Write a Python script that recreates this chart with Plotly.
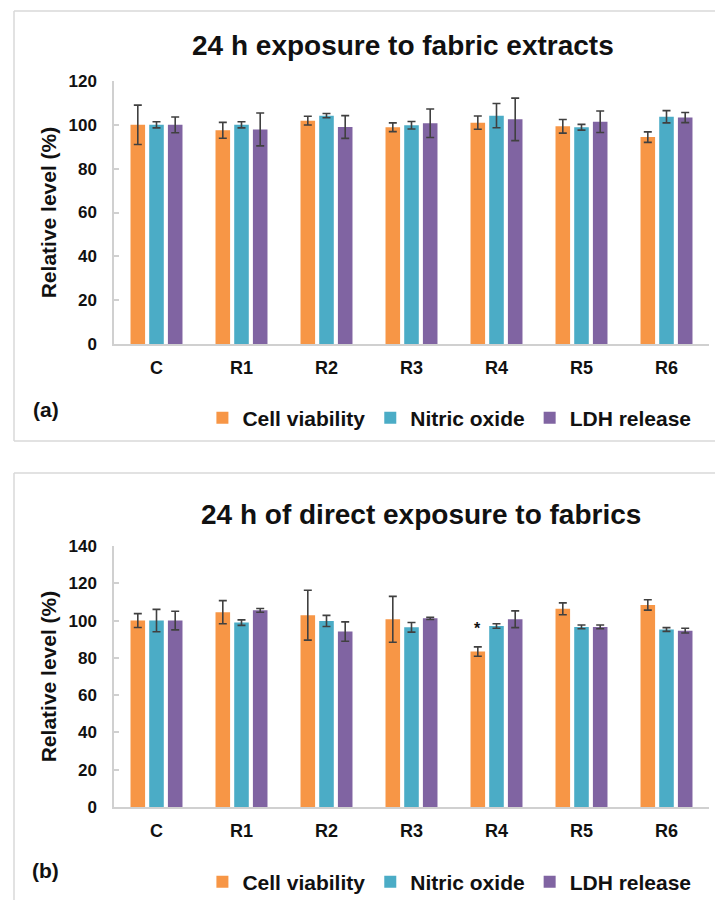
import plotly.graph_objects as go

categories = ["C", "R1", "R2", "R3", "R4", "R5", "R6"]
series_names = ["Cell viability", "Nitric oxide", "LDH release"]
series_colors = ["#F79646", "#4BACC6", "#8064A2"]

# Panel (a): 24 h exposure to fabric extracts
a_cell = [100, 97.5, 101.9, 98.9, 101.0, 99.3, 94.4]
a_cell_err = [9.0, 3.6, 2.0, 2.0, 3.0, 3.1, 2.4]
a_no = [100, 100, 104.2, 99.8, 104.2, 98.9, 103.7]
a_no_err = [1.4, 1.4, 1.0, 1.7, 5.5, 1.3, 2.8]
a_ldh = [100, 97.9, 99.0, 100.7, 102.5, 101.4, 103.3]
a_ldh_err = [3.6, 7.5, 5.2, 6.5, 9.7, 4.9, 2.3]

# Panel (b): 24 h of direct exposure to fabrics
b_cell = [100, 104.5, 102.9, 100.7, 83.4, 106.3, 108.4]
b_cell_err = [3.75, 6.2, 13.4, 12.3, 2.5, 3.2, 2.8]
b_no = [100, 98.9, 99.8, 96.4, 97.1, 96.6, 95.2]
b_no_err = [6.0, 1.5, 3.0, 2.6, 1.2, 1.0, 1.0]
b_ldh = [100, 105.5, 94.1, 101.2, 100.7, 96.6, 94.6]
b_ldh_err = [5.0, 1.0, 5.2, 0.6, 4.5, 1.0, 1.3]

title_a = "24 h exposure to fabric extracts"
title_b = "24 h of direct exposure to fabrics"
y_title = "Relative level (%)"
a_ticks = [0, 20, 40, 60, 80, 100, 120]
b_ticks = [0, 20, 40, 60, 80, 100, 120, 140]
star_cat = "R4"
star_value = 95.5

W, H = 715, 900
FONT = "Liberation Sans, Arial, sans-serif"
INK = "#111111"
AXIS = "#d0d0d0"
ERR = "#404040"
FRAME = "#d9d9d9"

fig = go.Figure()

panels = [
    ("x", "y", "legend", [(a_cell, a_cell_err), (a_no, a_no_err), (a_ldh, a_ldh_err)]),
    ("x2", "y2", "legend2", [(b_cell, b_cell_err), (b_no, b_no_err), (b_ldh, b_ldh_err)]),
]
for xa, ya, leg, data in panels:
    for (vals, errs), name, col in zip(data, series_names, series_colors):
        fig.add_trace(go.Bar(
            x=categories, y=vals, name=name, xaxis=xa, yaxis=ya, legend=leg,
            marker=dict(color=col, line=dict(width=0)),
            error_y=dict(type="data", array=errs, visible=True,
                         color=ERR, thickness=1.6, width=4),
        ))

def px_x(v):
    return v / W

def px_y(v):
    return 1 - v / H

xdom = [px_x(114), px_x(709)]
common_x = dict(
    showline=True, linecolor=AXIS, linewidth=1.5, ticks="", showgrid=False,
    tickfont=dict(family=FONT, size=18, color=INK, weight="bold"),
    ticklabelstandoff=7, fixedrange=True, automargin=False,
)
common_y = dict(
    showline=True, linecolor=AXIS, linewidth=1.5, ticks="inside", ticklen=5,
    tickcolor=AXIS, tickwidth=1.5, showgrid=False, zeroline=False,
    tickfont=dict(family=FONT, size=17, color=INK, weight="bold"),
    ticklabelstandoff=12, automargin=False, fixedrange=True,
    title=dict(text=y_title, font=dict(family=FONT, size=21, color=INK, weight="bold"),
               standoff=6),
)

legend_common = dict(
    orientation="h", xanchor="right", yanchor="middle",
    font=dict(family=FONT, size=21, color=INK, weight="bold"),
    bgcolor="rgba(0,0,0,0)", itemclick=False, itemdoubleclick=False,
    tracegroupgap=0, itemwidth=30,
)

fig.update_layout(
    width=W, height=H,
    margin=dict(l=0, r=0, t=0, b=0, autoexpand=False),
    paper_bgcolor="white", plot_bgcolor="white",
    barmode="group", bargap=0.34, bargroupgap=0.22,
    xaxis=dict(domain=xdom, anchor="y", **common_x),
    yaxis=dict(domain=[px_y(344), px_y(81)], anchor="x", range=[0, 120],
               tickvals=a_ticks, **common_y),
    xaxis2=dict(domain=xdom, anchor="y2", **common_x),
    yaxis2=dict(domain=[px_y(807), px_y(546)], anchor="x2", range=[0, 140],
                tickvals=b_ticks, **common_y),
    legend=dict(x=0.974, y=px_y(418), **legend_common),
    legend2=dict(x=0.974, y=px_y(882), **legend_common),
    showlegend=True,
)

def label(text, x, y, size, xref="paper", yref="paper", xshift=0):
    return dict(text=text, x=x, y=y, xref=xref, yref=yref, xshift=xshift,
                xanchor="center", yanchor="middle", showarrow=False,
                font=dict(family=FONT, size=size, color=INK, weight="bold"))

annotations = [
    label(title_a, px_x(403), px_y(45), 28),
    label(title_b, px_x(421), px_y(514), 28),
    label("(a)", px_x(46), px_y(409), 21),
    label("(b)", px_x(46), px_y(870), 21),
    label("*", star_cat, star_value, 16, xref="x2", yref="y2", xshift=-18.7),
]
fig.update_layout(annotations=annotations)

def frame_lines(top, bottom):
    lines = [
        dict(type="line", xref="paper", yref="paper", x0=px_x(14), x1=1.0,
             y0=px_y(top), y1=px_y(top), line=dict(color=FRAME, width=1.5), layer="below"),
        dict(type="line", xref="paper", yref="paper", x0=px_x(14), x1=px_x(14),
             y0=px_y(top), y1=px_y(bottom), line=dict(color=FRAME, width=1.5), layer="below"),
    ]
    if bottom <= H:
        lines.append(dict(type="line", xref="paper", yref="paper", x0=px_x(14), x1=1.0,
                          y0=px_y(bottom), y1=px_y(bottom),
                          line=dict(color=FRAME, width=1.5), layer="below"))
    return lines

fig.update_layout(shapes=frame_lines(11, 441) + frame_lines(473, 940))

fig.write_html(
    "out.html",
    config={"displayModeBar": False, "staticPlot": False},
    post_script="document.body.style.margin='0';document.body.style.overflow='hidden';",
)
